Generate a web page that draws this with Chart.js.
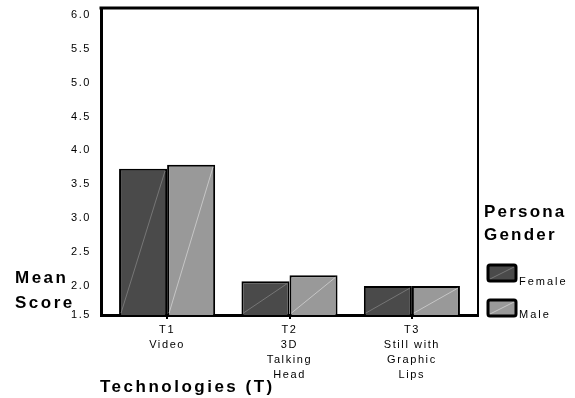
<!DOCTYPE html>
<html>
<head>
<meta charset="utf-8">
<script src="https://cdn.jsdelivr.net/npm/chart.js@4"></script>
<style>
  html, body { margin: 0; padding: 0; background: #fff; }
</style>
</head>
<body>
<canvas id="chart" width="575" height="398"></canvas>
<script>
// categories (multi-line tick labels)
const categories = [
    ["T1", "Video"],
    ["T2", "3D", "Talking", "Head"],
    ["T3", "Still with", "Graphic", "Lips"]
];
const seriesNames = ["Female", "Male"];
const femaleMeans = [3.73, 2.07, 2.00];
const maleMeans = [3.79, 2.16, 2.00];

// y axis: labels shown, axis starts a bit above 1.5 like the original
const yTickValues = [1.5, 2.0, 2.5, 3.0, 3.5, 4.0, 4.5, 5.0, 5.5, 6.0];
const yMin = 1.574;
const yMax = 6.1;
const xMin = -0.54;
const xMax = 2.54;

const barColors = ["#4a4a4a", "#999999"];
const hatchColors = ["#767676", "#c6c6c6"];
const FONT = "'Liberation Sans', Arial, sans-serif";

Chart.defaults.font.family = FONT;
Chart.defaults.color = "#000";

// letter spacing for the library's own tick labels
const spacingPlugin = {
    id: "spacing",
    beforeLayout(chart) { chart.ctx.letterSpacing = "1.6px"; },
    beforeDraw(chart) { chart.ctx.letterSpacing = "1.6px"; }
};

// faint diagonal line inside each bar
const hatchPlugin = {
    id: "hatch",
    afterDatasetsDraw(chart) {
        const ctx = chart.ctx;
        const bottom = chart.chartArea.bottom;
        chart.data.datasets.forEach((ds, di) => {
            const meta = chart.getDatasetMeta(di);
            meta.data.forEach(bar => {
                const { x, y, base, width } = bar.getProps(["x", "y", "base", "width"], true);
                const b = Math.min(base, bottom);
                ctx.save();
                ctx.strokeStyle = hatchColors[di];
                ctx.lineWidth = 1;
                ctx.beginPath();
                ctx.moveTo(x - width / 2 + 2, b - 2);
                ctx.lineTo(x + width / 2 - 2, y + 2);
                ctx.stroke();
                ctx.restore();
            });
        });
    }
};

// top / right frame, axis titles and legend
const decorPlugin = {
    id: "decor",
    afterDraw(chart) {
        const ctx = chart.ctx;
        const a = chart.chartArea;
        ctx.save();
        ctx.strokeStyle = "#000";
        ctx.lineWidth = 3;
        ctx.beginPath();
        ctx.moveTo(a.left - 1.5, a.top);
        ctx.lineTo(a.right + 1, a.top);
        ctx.stroke();
        ctx.lineWidth = 2;
        ctx.beginPath();
        ctx.moveTo(a.right, a.top);
        ctx.lineTo(a.right, a.bottom);
        ctx.stroke();

        // axis titles
        ctx.fillStyle = "#000";
        ctx.font = "bold 17px " + FONT;
        ctx.letterSpacing = "2.5px";
        ctx.textAlign = "left";
        ctx.textBaseline = "alphabetic";
        ctx.fillText("Mean", 15, 283);
        ctx.fillText("Score", 15, 308);
        ctx.fillText("Technologies (T)", 100, 392);

        // legend
        const lx = a.right + 6;
        ctx.letterSpacing = "2.2px";
        ctx.fillText("Persona", lx, 217);
        ctx.fillText("Gender", lx, 240);

        ctx.font = "11px " + FONT;
        ctx.letterSpacing = "2px";
        const boxTops = [265, 300];
        const textBase = [285, 318];
        seriesNames.forEach((name, i) => {
            const bx = lx + 4, by = boxTops[i], bw = 28, bh = 16;
            ctx.beginPath();
            ctx.roundRect(bx, by, bw, bh, 2);
            ctx.fillStyle = barColors[i];
            ctx.fill();
            ctx.strokeStyle = hatchColors[i];
            ctx.lineWidth = 1;
            ctx.beginPath();
            ctx.moveTo(bx + 2, by + bh - 2);
            ctx.lineTo(bx + bw - 2, by + 2);
            ctx.stroke();
            ctx.beginPath();
            ctx.roundRect(bx, by, bw, bh, 2);
            ctx.strokeStyle = "#000";
            ctx.lineWidth = 3;
            ctx.stroke();
            ctx.fillStyle = "#000";
            ctx.fillText(name, bx + bw + 3, textBase[i]);
        });
        ctx.restore();
    }
};

new Chart(document.getElementById("chart"), {
    type: "bar",
    data: {
        datasets: [
            {
                label: seriesNames[0],
                data: femaleMeans.map((v, i) => ({ x: i, y: v })),
                backgroundColor: barColors[0],
                borderColor: "#000",
                borderWidth: 2,
                borderSkipped: false
            },
            {
                label: seriesNames[1],
                data: maleMeans.map((v, i) => ({ x: i, y: v })),
                backgroundColor: barColors[1],
                borderColor: "#000",
                borderWidth: 2,
                borderSkipped: false
            }
        ]
    },
    options: {
        responsive: false,
        animation: false,
        categoryPercentage: 0.785,
        barPercentage: 1.0,
        layout: { padding: { top: 8, right: 97, left: 0, bottom: 0 } },
        plugins: {
            legend: { display: false },
            tooltip: { enabled: false }
        },
        scales: {
            x: {
                type: "linear",
                min: xMin,
                max: xMax,
                offset: false,
                afterBuildTicks: s => { s.ticks = categories.map((c, i) => ({ value: i })); },
                afterFit: s => { s.height = 83; },
                ticks: {
                    callback: (v, i) => categories[i],
                    autoSkip: false,
                    maxRotation: 0,
                    padding: 3,
                    font: { size: 11, lineHeight: 15 / 11 }
                },
                grid: { offset: false, drawOnChartArea: false, drawTicks: true, tickLength: 4, color: "#000", lineWidth: 2 },
                border: { display: true, color: "#000", width: 3 }
            },
            y: {
                min: yMin,
                max: yMax,
                afterBuildTicks: s => { s.ticks = yTickValues.map(v => ({ value: Math.max(v, yMin) })); },
                afterFit: s => { s.width = 101; },
                ticks: {
                    callback: (v, i) => yTickValues[i].toFixed(1),
                    padding: 0,
                    font: { size: 11 }
                },
                grid: { display: false, drawTicks: true, tickLength: 10 },
                border: { display: true, color: "#000", width: 3 }
            }
        }
    },
    plugins: [spacingPlugin, hatchPlugin, decorPlugin]
});
</script>
</body>
</html>
